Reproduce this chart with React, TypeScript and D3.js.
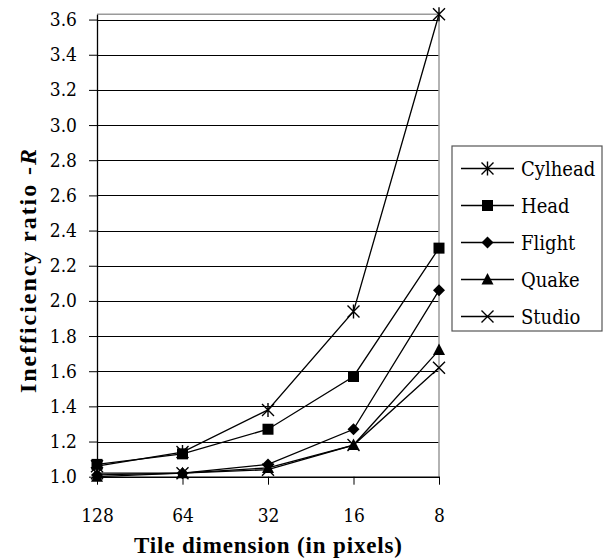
import { useEffect, useRef } from "react";
import * as d3 from "d3";

// tile sizes, read left to right
const tileSizes = ["128", "64", "32", "16", "8"];

// inefficiency ratio per dataset
const cylhead = [1.06, 1.14, 1.38, 1.94, 3.63];
const head = [1.07, 1.13, 1.27, 1.57, 2.3];
const flight = [1.01, 1.02, 1.07, 1.27, 2.06];
const quake = [1.0, 1.02, 1.05, 1.18, 1.72];
const studio = [1.02, 1.02, 1.04, 1.18, 1.62];

const seriesNames = ["Cylhead", "Head", "Flight", "Quake", "Studio"];
const yTicks = [1.0, 1.2, 1.4, 1.6, 1.8, 2.0, 2.2, 2.4, 2.6, 2.8, 3.0, 3.2, 3.4, 3.6];

// regular serif only resolves to DejaVu Serif here, bold Liberation Serif works
const SERIF = "DejaVu Serif";
const SERIF_BOLD = "Liberation Serif";

type MarkerKind = "asterisk" | "square" | "diamond" | "triangle" | "cross";
const markerKinds: MarkerKind[] = ["asterisk", "square", "diamond", "triangle", "cross"];

// draws one marker centred on (cx, cy)
function drawMarker(g: d3.Selection<SVGGElement, unknown, null, undefined>, kind: MarkerKind, cx: number, cy: number) {
    const m = g.append("g").attr("transform", `translate(${cx},${cy})`);
    if (kind === "asterisk") {
        m.append("path").attr("d", "M-6,-6L6,6M-6,6L6,-6M0,-7L0,7")
            .attr("stroke", "#000").attr("stroke-width", 1.4).attr("fill", "none");
    } else if (kind === "square") {
        m.append("rect").attr("x", -5.5).attr("y", -5.5).attr("width", 11).attr("height", 11).attr("fill", "#000");
    } else if (kind === "diamond") {
        m.append("path").attr("d", "M0,-6L6,0L0,6L-6,0Z").attr("fill", "#000");
    } else if (kind === "triangle") {
        m.append("path").attr("d", "M0,-6.5L6,5L-6,5Z").attr("fill", "#000");
    } else {
        m.append("path").attr("d", "M-6,-6L6,6M-6,6L6,-6")
            .attr("stroke", "#000").attr("stroke-width", 1.4).attr("fill", "none");
    }
}

export default function App() {
    const svgRef = useRef<SVGSVGElement | null>(null);

    useEffect(() => {
        const width = 612;
        const height = 560;
        const plotLeft = 97;
        const plotRight = 439;
        const plotTop = 14.3;
        const plotBottom = 476.7;

        const allSeries = [cylhead, head, flight, quake, studio];

        const x = d3.scalePoint<string>()
            .domain(tileSizes)
            .range([plotLeft, plotRight]);

        const y = d3.scaleLinear()
            .domain([1.0, 3.63])
            .range([plotBottom, plotTop]);

        const svg = d3.select(svgRef.current)
            .attr("width", width)
            .attr("height", height)
            .attr("viewBox", [0, 0, width, height].join(" "));
        svg.selectAll("*").remove();

        svg.append("rect").attr("width", width).attr("height", height).attr("fill", "#fff");

        // horizontal grid lines
        svg.append("g")
            .selectAll("line")
            .data(yTicks)
            .join("line")
            .attr("x1", plotLeft)
            .attr("x2", plotRight)
            .attr("y1", d => Math.round(y(d)) + 0.5)
            .attr("y2", d => Math.round(y(d)) + 0.5)
            .attr("stroke", "#000")
            .attr("stroke-width", 1);

        // grey plot frame (top and right)
        svg.append("path")
            .attr("d", `M${plotLeft},${plotTop}H${plotRight}V${plotBottom}`)
            .attr("fill", "none")
            .attr("stroke", "#9a9a9a")
            .attr("stroke-width", 1.5);

        // y axis
        svg.append("g")
            .attr("transform", `translate(${plotLeft},0)`)
            .call(d3.axisLeft(y).tickValues(yTicks).tickFormat(d3.format(".1f")).tickSize(8).tickPadding(12).tickSizeOuter(0))
            .call(g => g.select(".domain").attr("stroke", "#000").attr("stroke-width", 1.3))
            .call(g => g.selectAll(".tick line").attr("stroke", "#000"))
            .call(g => g.selectAll(".tick text")
                .attr("font-family", SERIF)
                .attr("font-stretch", "condensed")
                .attr("font-size", 19)
                .attr("fill", "#000"));

        // x axis
        svg.append("g")
            .attr("transform", `translate(0,${plotBottom})`)
            .call(d3.axisBottom(x).tickSize(8).tickPadding(24).tickSizeOuter(0))
            .call(g => g.select(".domain").attr("stroke", "#000").attr("stroke-width", 1.3))
            .call(g => g.selectAll(".tick line").attr("stroke", "#000"))
            .call(g => g.selectAll(".tick text")
                .attr("font-family", SERIF)
                .attr("font-stretch", "condensed")
                .attr("font-size", 19)
                .attr("fill", "#000"));

        // axis titles
        svg.append("text")
            .attr("x", (plotLeft + plotRight) / 2)
            .attr("y", 553)
            .attr("text-anchor", "middle")
            .attr("font-family", SERIF_BOLD)
            .attr("font-size", 23)
            .attr("font-weight", "bold")
            .attr("textLength", 268)
            .attr("lengthAdjust", "spacing")
            .text("Tile dimension (in pixels)");

        const yTitle = svg.append("text")
            .attr("transform", `translate(36,271) rotate(-90)`)
            .attr("text-anchor", "middle")
            .attr("font-family", SERIF_BOLD)
            .attr("font-size", 24)
            .attr("font-weight", "bold")
            .attr("textLength", 244)
            .attr("lengthAdjust", "spacing");
        yTitle.append("tspan").text("Inefficiency ratio -");
        yTitle.append("tspan").attr("font-style", "italic").text("R");

        // series lines and markers
        const line = d3.line<number>()
            .x((_, i) => x(tileSizes[i]) as number)
            .y(d => y(d));

        const marks = svg.append("g");
        allSeries.forEach(values => {
            marks.append("path")
                .attr("d", line(values))
                .attr("fill", "none")
                .attr("stroke", "#000")
                .attr("stroke-width", 1.3);
        });
        allSeries.forEach((values, si) => {
            values.forEach((v, i) => drawMarker(marks, markerKinds[si], x(tileSizes[i]) as number, y(v)));
        });

        // legend
        const legend = svg.append("g");
        legend.append("rect")
            .attr("x", 452)
            .attr("y", 146)
            .attr("width", 150)
            .attr("height", 185)
            .attr("fill", "#fff")
            .attr("stroke", "#555")
            .attr("stroke-width", 1.2);
        seriesNames.forEach((name, i) => {
            const cy = 168.5 + i * 37;
            legend.append("line")
                .attr("x1", 461).attr("x2", 514)
                .attr("y1", cy).attr("y2", cy)
                .attr("stroke", "#000").attr("stroke-width", 1.3);
            drawMarker(legend, markerKinds[i], 487.5, cy);
            legend.append("text")
                .attr("x", 521)
                .attr("y", cy + 7)
                .attr("font-family", SERIF)
                .attr("font-stretch", "condensed")
                .attr("font-size", 20)
                .text(name);
        });
    }, []);

    return (
        <svg ref={svgRef} style={{ position: "absolute", left: 0, top: 0, display: "block" }} />
    );
}
